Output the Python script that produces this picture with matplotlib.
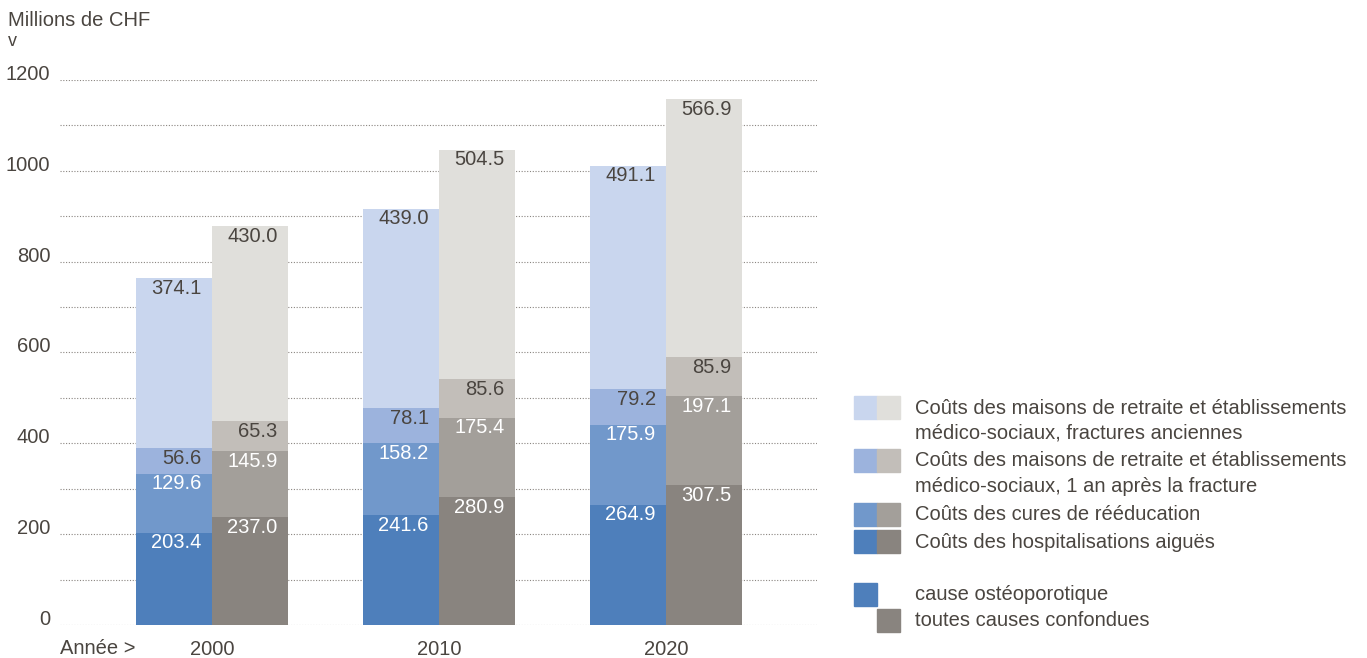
import matplotlib.pyplot as plt
from matplotlib.patches import Rectangle
import numpy as np

plt.rcParams['font.family'] = ['Liberation Sans', 'DejaVu Sans']

years = ['2000', '2010', '2020']
segments = [
    'Coûts des hospitalisations aiguës',
    'Coûts des cures de rééducation',
    'Coûts des maisons de retraite et établissements\nmédico-sociaux, 1 an après la fracture',
    'Coûts des maisons de retraite et établissements\nmédico-sociaux, fractures anciennes',
]
# cause ostéoporotique, bas -> haut
osteo = [
    [203.4, 241.6, 264.9],
    [129.6, 158.2, 175.9],
    [56.6, 78.1, 79.2],
    [374.1, 439.0, 491.1],
]
# toutes causes confondues
all_causes = [
    [237.0, 280.9, 307.5],
    [145.9, 175.4, 197.1],
    [65.3, 85.6, 85.9],
    [430.0, 504.5, 566.9],
]
yticks = [0, 200, 400, 600, 800, 1000, 1200]

blues = ['#4e7fbb', '#7198cb', '#9cb3dd', '#c9d6ee']
greys = ['#89847f', '#a39f9a', '#c2beb9', '#e0dfdb']
txt = '#4a4540'
fs = 14.5

W, H = 1367, 658
fig = plt.figure(figsize=(W / 100, H / 100), dpi=100)
ax = fig.add_axes([60 / W, 33 / H, (817 - 60) / W, (625 - 80) / H])

x = np.arange(len(years))
bw = 0.335
for group, colors, off in [(osteo, blues, -bw / 2), (all_causes, greys, bw / 2)]:
    bottom = np.zeros(len(years))
    for i, vals in enumerate(group):
        vals = np.array(vals)
        ax.bar(x + off, vals, bw, bottom=bottom, color=colors[i], zorder=2)
        for xi, b, v in zip(x, bottom, vals):
            ax.annotate(f'{v:.1f}', (xi + off + bw / 2, b + v), xytext=(-7.5, -0.5),
                        textcoords='offset points', ha='right', va='top',
                        fontsize=fs, color='white' if i < 2 else txt, zorder=3)
        bottom += vals

for yv in range(0, 1201, 100):
    ax.axhline(yv, color='#8a8580', lw=0.8, ls=(0, (1, 1.5)), zorder=1)

ax.set_xlim(-0.67, 2.665)
ax.set_ylim(0, 1200)
ax.set_yticks(yticks)
ax.set_yticklabels([str(t) for t in yticks], fontsize=fs, color=txt, va='baseline')
ax.set_xticks(x)
ax.set_xticklabels(years, fontsize=fs, color=txt)
ax.tick_params(axis='x', length=0, pad=11)
ax.tick_params(axis='y', length=0, pad=7)
for s in ax.spines.values():
    s.set_visible(False)

fig.text(8 / W, 1 - 20 / H, 'Millions de CHF', fontsize=fs, color=txt, va='center')
fig.text(8 / W, 1 - 41 / H, 'v', fontsize=13, color=txt, va='center')
fig.text(60 / W, 1 - 648 / H, 'Année >', fontsize=fs, color=txt, va='center')


def sq(px, py, c):
    fig.patches.append(Rectangle((px / W, 1 - (py + 23) / H), 23 / W, 23 / H,
                                 color=c, transform=fig.transFigure))


leg_rows = [(396, 3), (449, 2), (503, 1), (530, 0)]
for top, k in leg_rows:
    sq(854, top, blues[k])
    sq(877, top, greys[k])
    fig.text(915 / W, 1 - (top + 12) / H, segments[k].split('\n')[0], fontsize=fs,
             color=txt, va='center')
    if '\n' in segments[k]:
        fig.text(915 / W, 1 - (top + 37) / H, segments[k].split('\n')[1], fontsize=fs,
                 color=txt, va='center')

sq(854, 583, blues[0])
fig.text(915 / W, 1 - 594 / H, 'cause ostéoporotique', fontsize=fs, color=txt, va='center')
sq(877, 609, greys[0])
fig.text(915 / W, 1 - 620 / H, 'toutes causes confondues', fontsize=fs, color=txt, va='center')

fig.savefig('out.png', dpi=100)
